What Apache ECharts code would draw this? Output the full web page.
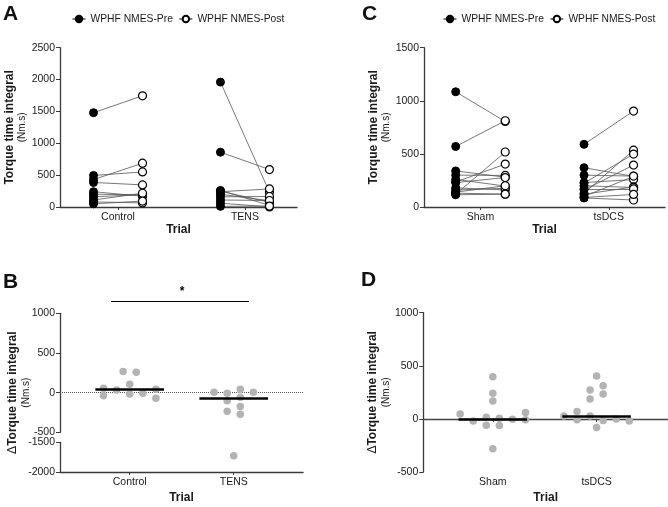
<!DOCTYPE html>
<html><head><meta charset="utf-8">
<script src="https://cdn.jsdelivr.net/npm/echarts@6/dist/echarts.min.js"></script>
<style>html,body{margin:0;padding:0;background:#fff}#c{width:668px;height:507px}</style>
</head><body><div id="c"></div>
<script>
const FONT = 'Arial, "Liberation Sans", Helvetica, sans-serif';
const seriesNames = ['WPHF NMES-Pre', 'WPHF NMES-Post'];

// Panel A
const catsA = ['Control', 'TENS'];
const aTicks = [0, 500, 1000, 1500, 2000, 2500];
const aControlPre  = [1480, 430, 495, 385, 240, 200, 160, 110, 80, 50];
const aControlPost = [1745, 687, 550, 347, 169, 192, 194, 216, 64, 93];
const aTensPre  = [1960, 860, 260, 250, 200, 240, 160, 110, 60, 10];
const aTensPost = [234, 588, 25, 74, 99, 283, 165, 102, 2, 15];

// Panel C
const catsC = ['Sham', 'tsDCS'];
const cTicks = [0, 500, 1000, 1500];
const cShamPre  = [1085, 570, 120, 235, 340, 300, 260, 230, 180, 160, 140, 130, 115];
const cShamPost = [805, 812, 518, 404, 280, 297, 197, 277, 161, 176, 200, 121, 121];
const cTsPre  = [590, 130, 225, 160, 100, 370, 230, 120, 200, 170, 85, 90, 300];
const cTsPost = [903, 535, 498, 395, 288, 288, 258, 189, 184, 170, 66, 118, 291];

// Panel B (broken axis)
const bTicksUpper = [-500, 0, 500, 1000];
const bTicksLower = [-2000, -1500];
const bControlDelta = [55, -38, 34, 265, 106, -16, 257, -8, 43, -71];
const bControlSlot  = [-4, -4, -2, -1, 0, 0, 1, 2, 4, 4];
const bTensDelta = [5, -8, -101, -235, 43, -58, -176, -272, 5, -1726];
const bTensSlot  = [-3, -1, -1, -1, 1, 1, 1, 1, 3, 0];
const bMedian = [43, -76];

// Panel D
const dTicks = [-500, 0, 500, 1000];
const dShamDelta = [47, -19, 16, -60, 398, 242, 169, 6, -63, -3, 60, -9, -280];
const dShamSlot  = [-5, -3, -1, -1, 0, 0, 0, 1, 1, 3, 5, 5, 0];
const dTsDelta = [28, 69, -9, 273, 188, 28, 405, -82, 311, 235, -16, 0, -19];
const dTsSlot  = [-5, -3, -3, -1, -1, -1, 0, 0, 1, 1, 1, 3, 5];
const dMedian = [0, 28];

// ---- helpers ----
const PAIR_OFF = 0.193;
const SLOT_W = 0.063;
const MED_HALF = 0.33;
const AX = '#3a3a3a';
const TXT = '#1a1a1a';

function pts(pre, post, cat, which) {
  const arr = which === 0 ? pre : post;
  const off = which === 0 ? -PAIR_OFF : PAIR_OFF;
  return arr.map(v => [cat + off, v]);
}
function connectors(pre, post, cat) {
  return pre.map((v, i) => ({ coords: [[cat - PAIR_OFF, v], [cat + PAIR_OFF, post[i]]] }));
}
function swarm(vals, slots, cat, lo, hi) {
  const out = [];
  vals.forEach((v, i) => { if (v >= lo && v <= hi) out.push([cat + slots[i] * SLOT_W, v]); });
  return out;
}
function yName(delta) {
  return (delta ? '{d|\u0394}' : '') + '{b|Torque time integral}\n{n|(Nm.s)}';
}
const yNameStyle = {
  fontFamily: FONT, color: TXT,
  rich: {
    b: { fontFamily: FONT, fontSize: 12, fontWeight: 'bold', color: TXT, lineHeight: 14 },
    d: { fontFamily: FONT, fontSize: 12, color: TXT, lineHeight: 14 },
    n: { fontFamily: FONT, fontSize: 10, color: TXT, lineHeight: 13 }
  }
};
function xAxisCat(grid, min, max, cats, nameGap) {
  return {
    type: 'value', gridIndex: grid, min: min, max: max,
    name: 'Trial', nameLocation: 'middle', nameGap: nameGap,
    nameTextStyle: { fontFamily: FONT, fontSize: 12, fontWeight: 'bold', color: TXT },
    axisLine: { show: true, lineStyle: { color: AX, width: 1.4 } },
    axisTick: { show: true, length: 3, customValues: [1, 2], lineStyle: { color: AX } },
    axisLabel: { customValues: [1, 2], margin: 5, fontFamily: FONT, fontSize: 10.5, color: TXT,
      formatter: v => cats[Math.round(v) - 1] },
    splitLine: { show: false }
  };
}
function yAxisVal(grid, ticks, name, nameGap) {
  return {
    type: 'value', gridIndex: grid, min: ticks[0], max: ticks[ticks.length - 1],
    interval: ticks[1] - ticks[0],
    name: name || '', nameLocation: 'middle', nameGap: nameGap || 27, nameTextStyle: yNameStyle,
    axisLine: { show: true, lineStyle: { color: AX, width: 1.3 } },
    axisTick: { show: true, length: 4, lineStyle: { color: AX } },
    axisLabel: { margin: 5, fontFamily: FONT, fontSize: 10.5, color: TXT, formatter: v => String(v) },
    splitLine: { show: false }
  };
}
function connSeries(xi, data) {
  return { type: 'lines', coordinateSystem: 'cartesian2d', xAxisIndex: xi, yAxisIndex: xi,
    data: data, silent: true, z: 1, lineStyle: { color: '#555', width: 0.8, opacity: 1 } };
}
function ptSeries(xi, name, data, filled) {
  return { type: 'line', name: name, xAxisIndex: xi, yAxisIndex: xi, data: data, z: 3,
    symbol: 'circle', symbolSize: 8, showSymbol: true, showAllSymbol: true, silent: true,
    lineStyle: { width: 0, opacity: 0 },
    itemStyle: filled ? { color: '#000', borderColor: '#000', borderWidth: 1 }
                      : { color: '#fff', borderColor: '#000', borderWidth: 1.2 } };
}
function dotSeries(xi, yi, data, zeroLine) {
  const s = { type: 'scatter', xAxisIndex: xi, yAxisIndex: yi, data: data, symbolSize: 7.5, z: 3,
    silent: true, itemStyle: { color: '#b3b3b3', opacity: 1 } };
  if (zeroLine) s.markLine = { silent: true, symbol: 'none', label: { show: false }, z: 1,
    data: [{ yAxis: 0 }], lineStyle: { type: 'dotted', color: '#555', width: 1 } };
  return s;
}
function medSeries(xi, yi, meds) {
  return { type: 'lines', coordinateSystem: 'cartesian2d', xAxisIndex: xi, yAxisIndex: yi, silent: true, z: 4,
    data: meds.map((m, i) => ({ coords: [[i + 1 - MED_HALF, m], [i + 1 + MED_HALF, m]] })),
    lineStyle: { color: '#000', width: 2.6, opacity: 1 } };
}
const legendCommon = {
  orient: 'horizontal', itemWidth: 13, itemHeight: 8, itemGap: 6, padding: 0,
  textStyle: { fontFamily: FONT, fontSize: 10.3, color: TXT },
  lineStyle: { width: 1, color: '#000', opacity: 1 },
  data: seriesNames, selectedMode: false
};

const option = {
  animation: false,
  backgroundColor: '#fff',
  textStyle: { fontFamily: FONT },
  legend: [
    Object.assign({}, legendCommon, { left: 72, top: 14 }),
    Object.assign({}, legendCommon, { left: 443, top: 14 })
  ],
  grid: [
    { left: 60, top: 47.7, width: 237, height: 159.3 },
    { left: 424, top: 47.7, width: 241, height: 159.3 },
    { left: 60, top: 313.3, width: 243, height: 119 },
    { left: 60, top: 442.3, width: 243, height: 29.7 },
    { left: 60, top: 313.3, width: 243, height: 158.7 },
    { left: 423.3, top: 312.7, width: 244.7, height: 159.3 }
  ],
  xAxis: [
    xAxisCat(0, 0.543, 2.41, catsA, 15),
    xAxisCat(1, 0.56, 2.438, catsC, 15),
    { type: 'value', gridIndex: 2, min: 0.33, max: 2.666, show: false },
    xAxisCat(3, 0.33, 2.666, catsA, 20),
    { type: 'value', gridIndex: 4, min: 0.33, max: 2.666, show: false },
    xAxisCat(5, 0.33, 2.688, catsC, 20)
  ],
  yAxis: [
    yAxisVal(0, aTicks, yName(false), 27),
    yAxisVal(1, cTicks, yName(false), 27),
    yAxisVal(2, bTicksUpper),
    yAxisVal(3, bTicksLower),
    { type: 'value', gridIndex: 4, min: 0, max: 1, name: yName(true), nameLocation: 'middle', nameGap: 27,
      nameTextStyle: yNameStyle, axisLine: { show: false }, axisTick: { show: false },
      axisLabel: { show: false }, splitLine: { show: false } },
    yAxisVal(5, dTicks, yName(true), 26)
  ],
  series: [
    connSeries(0, connectors(aControlPre, aControlPost, 1).concat(connectors(aTensPre, aTensPost, 2))),
    ptSeries(0, seriesNames[1], pts(aControlPre, aControlPost, 1, 1).concat(pts(aTensPre, aTensPost, 2, 1)), false),
    ptSeries(0, seriesNames[0], pts(aControlPre, aControlPost, 1, 0).concat(pts(aTensPre, aTensPost, 2, 0)), true),

    connSeries(1, connectors(cShamPre, cShamPost, 1).concat(connectors(cTsPre, cTsPost, 2))),
    ptSeries(1, seriesNames[1], pts(cShamPre, cShamPost, 1, 1).concat(pts(cTsPre, cTsPost, 2, 1)), false),
    ptSeries(1, seriesNames[0], pts(cShamPre, cShamPost, 1, 0).concat(pts(cTsPre, cTsPost, 2, 0)), true),

    dotSeries(2, 2, swarm(bControlDelta, bControlSlot, 1, -500, 1000).concat(swarm(bTensDelta, bTensSlot, 2, -500, 1000)), true),
    dotSeries(3, 3, swarm(bControlDelta, bControlSlot, 1, -2000, -1500).concat(swarm(bTensDelta, bTensSlot, 2, -2000, -1500)), false),
    medSeries(2, 2, bMedian),

    dotSeries(5, 5, swarm(dShamDelta, dShamSlot, 1, -500, 1000).concat(swarm(dTsDelta, dTsSlot, 2, -500, 1000)), true),
    medSeries(5, 5, dMedian)
  ],
  graphic: [
    { type: 'text', left: 3, top: 4, style: { text: 'A', font: 'bold 21px ' + FONT, fill: '#111' } },
    { type: 'text', left: 362, top: 4, style: { text: 'C', font: 'bold 21px ' + FONT, fill: '#111' } },
    { type: 'text', left: 3, top: 272, style: { text: 'B', font: 'bold 21px ' + FONT, fill: '#111' } },
    { type: 'text', left: 361, top: 270, style: { text: 'D', font: 'bold 21px ' + FONT, fill: '#111' } },
    { type: 'line', shape: { x1: 111, y1: 301.5, x2: 249, y2: 301.5 }, style: { stroke: '#000', lineWidth: 1.1 } },
    { type: 'text', x: 182, y: 292, style: { text: '*', font: 'bold 12px ' + FONT, fill: '#000', align: 'center', verticalAlign: 'middle' } }
  ]
};
const chart = echarts.init(document.getElementById('c'), null, { renderer: 'canvas' });
chart.setOption(option);
</script>
</body></html>
